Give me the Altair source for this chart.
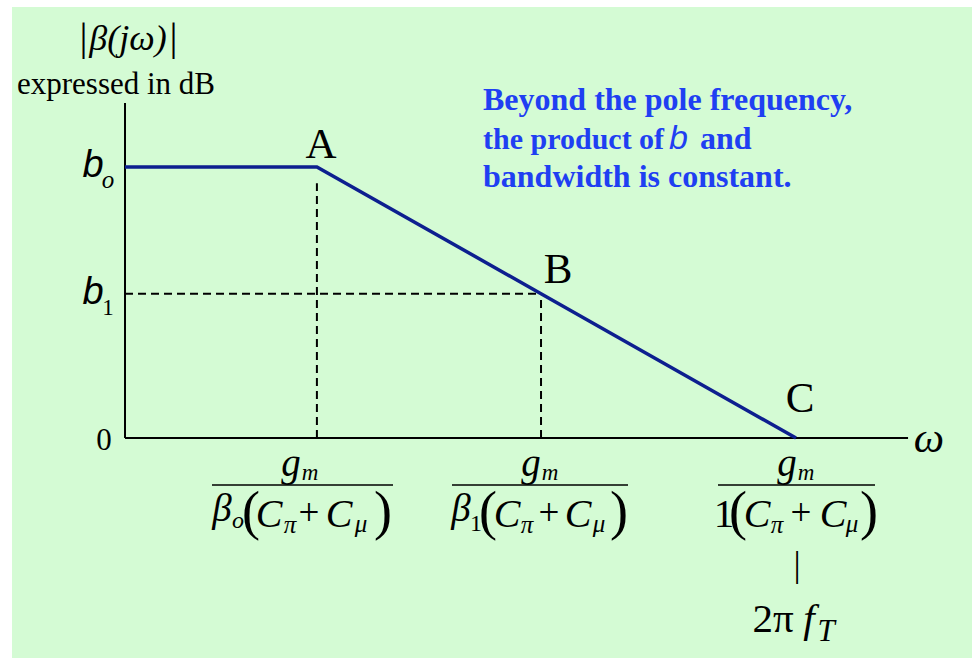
import altair as alt
import pandas as pd

# ---------------------------------------------------------------------------
# Asymptotic |beta(jw)| in dB against log-frequency (arbitrary decade units)
# ---------------------------------------------------------------------------
corner_labels = ["A", "B", "C"]
corner_log_omega = [2.86, 6.2, 10.0]
corner_gain_db = [40.0, 21.3, 0.0]

curve_log_omega = [0.0, 2.86, 6.2, 10.0]
curve_gain_db = [40.0, 40.0, 21.3, 0.0]

axis_x_end = 11.67        # right end of the omega axis
axis_y_top = 49.45        # top end of the gain axis
guide_gap_db = 2.4        # dashed drop line from A starts a little below the curve

NAVY = "#0d1f8f"
BLUE = "#1f3ff2"
PANEL = "#d4fbd4"
SERIF = "Liberation Serif"
SANS = "Liberation Sans"

xs = alt.Scale(domain=[-1.863, 12.623], nice=False, zero=False)
ys = alt.Scale(domain=[-32.47, 64.65], nice=False, zero=False)

one_row = alt.Data(values=[{}])

# background panel
panel = alt.Chart(one_row).mark_rect(color=PANEL).encode(
    x=alt.value(12), x2=alt.value(972), y=alt.value(7), y2=alt.value(658)
)

# axes
axes_df = pd.DataFrame({
    "x": [0.0, 0.0], "x2": [0.0, axis_x_end],
    "y": [0.0, 0.0], "y2": [axis_y_top, 0.0],
})
axes = alt.Chart(axes_df).mark_rule(color="black", strokeWidth=2).encode(
    x=alt.X("x:Q", scale=xs, axis=None), x2="x2:Q",
    y=alt.Y("y:Q", scale=ys, axis=None), y2="y2:Q",
)

# dashed drop lines from A and B
a_x, b_x = corner_log_omega[0], corner_log_omega[1]
b_o, b_1 = corner_gain_db[0], corner_gain_db[1]
guides_df = pd.DataFrame({
    "x": [a_x, b_x, 0.0], "x2": [a_x, b_x, b_x],
    "y": [0.0, 0.0, b_1], "y2": [b_o - guide_gap_db, b_1, b_1],
})
guides = alt.Chart(guides_df).mark_rule(
    color="black", strokeWidth=2, strokeDash=[8, 5]
).encode(
    x=alt.X("x:Q", scale=xs, axis=None), x2="x2:Q",
    y=alt.Y("y:Q", scale=ys, axis=None), y2="y2:Q",
)

# the asymptotic response
curve_df = pd.DataFrame({"log_omega": curve_log_omega, "gain_db": curve_gain_db})
curve = alt.Chart(curve_df).mark_line(color=NAVY, strokeWidth=3.5).encode(
    x=alt.X("log_omega:Q", scale=xs, axis=None),
    y=alt.Y("gain_db:Q", scale=ys, axis=None),
    order="log_omega:Q",
)

# corner point labels, offset from their points
corners_df = pd.DataFrame({
    "label": corner_labels, "log_omega": corner_log_omega, "gain_db": corner_gain_db
})
label_offsets = {"A": (4, -9), "B": (17, -11), "C": (4, -26)}
corner_layers = []
for lab in corner_labels:
    dx, dy = label_offsets[lab]
    corner_layers.append(
        alt.Chart(corners_df).transform_filter(alt.datum.label == lab).mark_text(
            font=SERIF, fontSize=43, color="black", align="center",
            baseline="alphabetic", dx=dx, dy=dy,
        ).encode(
            x=alt.X("log_omega:Q", scale=xs, axis=None),
            y=alt.Y("gain_db:Q", scale=ys, axis=None),
            text="label:N",
        )
    )

# typeset annotations: (text, style, size, x px, baseline px, align)
SI, UP, SA, BB, BS = "serif_italic", "serif", "sans_italic", "blue_bold", "blue_sans"
notes = [
    # vertical axis title
    ("|", UP, 40, 83.5, 50, "center"),
    ("β(jω)", SI, 36, 128, 50, "center"),
    ("|", UP, 40, 173.5, 50, "center"),
    ("expressed in dB", UP, 31, 116, 94, "center"),
    # gain levels
    ("b", SA, 38, 93, 177, "center"),
    ("o", SI, 25, 108, 188, "center"),
    ("b", SA, 38, 93, 304, "center"),
    ("1", UP, 23, 108, 315, "center"),
    ("0", UP, 31, 104, 450, "center"),
    ("ω", SI, 43, 929, 452, "center"),
    # first corner frequency
    ("g", SI, 39, 291, 476, "center"), ("m", SI, 23, 310, 480, "center"),
    ("β", SI, 39, 222, 521, "center"), ("o", SI, 24, 238, 528, "center"),
    ("(", UP, 54, 251, 529, "center"), ("C", SI, 40, 269, 527, "center"),
    ("π", SI, 25, 290, 533, "center"), ("+", UP, 37, 309, 525, "center"),
    ("C", SI, 40, 339, 527, "center"), ("μ", SI, 25, 361, 532, "center"),
    (")", UP, 54, 383, 529, "center"),
    # second frequency
    ("g", SI, 39, 531, 476, "center"), ("m", SI, 23, 550, 480, "center"),
    ("β", SI, 39, 461, 521, "center"), ("1", UP, 24, 476, 531, "center"),
    ("(", UP, 54, 488, 529, "center"), ("C", SI, 40, 507, 527, "center"),
    ("π", SI, 25, 527, 533, "center"), ("+", UP, 37, 549, 525, "center"),
    ("C", SI, 40, 578, 527, "center"), ("μ", SI, 25, 599, 532, "center"),
    (")", UP, 54, 619, 529, "center"),
    # unity-gain frequency
    ("g", SI, 39, 787, 476, "center"), ("m", SI, 23, 806, 480, "center"),
    ("1", UP, 41, 724, 527, "center"),
    ("(", UP, 54, 738, 529, "center"), ("C", SI, 40, 757, 527, "center"),
    ("π", SI, 25, 777, 533, "center"), ("+", UP, 37, 801, 525, "center"),
    ("C", SI, 40, 833, 527, "center"), ("μ", SI, 25, 852, 532, "center"),
    (")", UP, 54, 869, 529, "center"),
    ("|", UP, 36, 797, 576, "center"),
    ("2π", UP, 41, 773, 632, "center"),
    ("f", SI, 41, 809, 632, "center"), ("T", SI, 31, 826, 641, "center"),
    # remark
    ("Beyond the pole frequency,", BB, 32, 483, 110, "left"),
    ("the product of", BB, 30, 483, 148.5, "left"),
    ("b", BS, 34, 669, 148.5, "left"),
    ("and", BB, 32, 700, 148.5, "left"),
    ("bandwidth is constant.", BB, 32, 483, 187, "left"),
]
notes_df = pd.DataFrame(notes, columns=["text", "style", "size", "px", "py", "align"])

style_props = {
    SI: dict(font=SERIF, fontStyle="italic", color="black"),
    UP: dict(font=SERIF, color="black"),
    SA: dict(font=SANS, fontStyle="italic", color="black"),
    BB: dict(font=SERIF, fontWeight="bold", color=BLUE),
    BS: dict(font=SANS, fontStyle="italic", color=BLUE),
}

note_layers = []
for (style, align), grp in notes_df.groupby(["style", "align"]):
    note_layers.append(
        alt.Chart(grp).mark_text(
            baseline="alphabetic", align=align, **style_props[style]
        ).encode(
            x=alt.X("px:Q", scale=None, axis=None),
            y=alt.Y("py:Q", scale=None, axis=None),
            size=alt.Size("size:Q", scale=None, legend=None),
            text="text:N",
        )
    )

# fraction bars under the frequency ticks
bars_df = pd.DataFrame({"px": [212, 452, 718], "px2": [393, 628, 875], "py": [485, 485, 485]})
frac_bars = alt.Chart(bars_df).mark_rule(color="black", strokeWidth=1.6).encode(
    x=alt.X("px:Q", scale=None, axis=None), x2="px2:Q",
    y=alt.Y("py:Q", scale=None, axis=None),
)

chart = alt.layer(
    panel, axes, guides, curve, *corner_layers, frac_bars, *note_layers
).resolve_scale(
    x="independent", y="independent"
).properties(
    width=972, height=658, padding=0, autosize="none", background="white"
).configure_view(stroke=None)

chart.save("out.html", embed_options={"renderer": "svg", "actions": False})
